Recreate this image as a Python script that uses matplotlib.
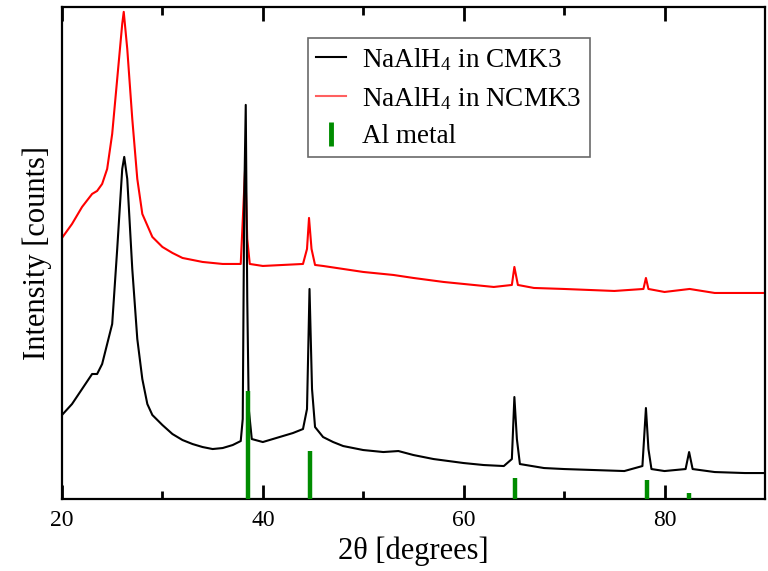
import matplotlib
matplotlib.use("Agg")
import matplotlib.pyplot as plt
from matplotlib.lines import Line2D

plt.rcParams['font.family'] = ['Liberation Serif', 'DejaVu Serif']
plt.rcParams['mathtext.fontset'] = 'custom'
plt.rcParams['mathtext.rm'] = 'Liberation Serif'
plt.rcParams['mathtext.it'] = 'Liberation Serif:italic'

# NaAlH4 in CMK3 (black)
cmk3_x = [20, 21, 22, 23, 23.5, 24, 24.5, 25, 25.5, 26.0, 26.2, 26.5, 27.0, 27.5, 28, 28.5, 29, 30, 31, 32,
          33, 34, 35, 36, 37, 37.8, 38.0, 38.15, 38.3, 38.45, 38.6, 38.9, 40, 41, 42, 43, 44, 44.4, 44.65,
          44.9, 45.2, 46, 47, 48, 50, 52, 53.5, 55, 57, 60, 62, 64, 64.8, 65.05, 65.3, 65.6, 68, 70, 73, 76,
          77.8, 78.15, 78.4, 78.7, 80, 82.1, 82.45, 82.8, 85, 88, 90]
cmk3_y = [84, 95, 110, 125, 125, 135, 155, 175, 250, 330, 342, 320, 230, 160, 120, 95, 84, 74, 65, 59,
          55, 52, 50, 51, 54, 58, 80, 300, 394, 200, 90, 60, 57, 60, 63, 66, 70, 90, 210,
          110, 72, 62, 57, 53, 49, 47, 48, 44, 40, 36, 34, 33, 40, 102, 60, 35, 31, 30, 29, 28,
          33, 91, 50, 30, 28, 30, 47, 30, 27, 26, 26]

# NaAlH4 in NCMK3 (red)
ncmk3_x = [20, 21, 22, 23, 23.5, 24, 24.5, 25, 25.5, 26.0, 26.15, 26.5, 27, 27.5, 28, 29, 30, 31, 32, 34, 36,
           37.8, 38.1, 38.25, 38.45, 38.7, 40, 42, 44, 44.4, 44.6, 44.85, 45.2, 46, 48, 50, 53, 55, 58, 60,
           63, 64.8, 65.05, 65.4, 67, 70, 75, 77.9, 78.15, 78.4, 80, 82.5, 85, 90]
ncmk3_y = [261, 275, 292, 305, 308, 315, 330, 365, 420, 475, 487, 450, 380, 320, 285, 262, 252, 246, 241, 237, 235,
           235, 300, 333, 260, 235, 233, 234, 235, 250, 281, 250, 234, 233, 230, 227, 224, 221, 217, 215,
           212, 214, 232, 214, 211, 210, 208, 210, 221, 210, 207, 210, 206, 206]

# Al metal reference lines
al_pos = [38.5, 44.74, 65.1, 78.23, 82.45]
al_int = [108, 48, 21, 19, 6]

xticks_major = [20, 40, 60, 80]
xticks_minor = [30, 50, 70]

fig = plt.figure(figsize=(7.68, 5.71), dpi=100)
ax = fig.add_axes([0.0807, 0.126, 0.9153, 0.862])

ax.plot(ncmk3_x, ncmk3_y, color='red', lw=1.5)
ax.plot(cmk3_x, cmk3_y, color='black', lw=1.5)
ax.vlines(al_pos, 0, al_int, color='#008c00', lw=3.2, zorder=3)

ax.set_xlim(20, 90)
ax.set_ylim(0, 492)
ax.set_xticks(xticks_major)
ax.set_xticks(xticks_minor, minor=True)
ax.set_yticks([])
ax.tick_params(axis='x', which='both', direction='in', top=True, bottom=True,
               width=2.0, color='black')
ax.tick_params(axis='x', which='major', length=10, labelsize=17, pad=8)
ax.tick_params(axis='x', which='minor', length=6)

for s in ax.spines.values():
    s.set_linewidth(1.6)

ax.set_xlabel(r'2θ [degrees]', fontsize=22, labelpad=4)
ax.set_ylabel('Intensity [counts]', fontsize=22, labelpad=7)

handles = [Line2D([], [], color='black', lw=1.5),
           Line2D([], [], color='#ff6060', lw=1.5),
           Line2D([], [], color='#008c00', marker='|', ls='none', markersize=17, mew=3.5)]
labels = [r'NaAlH$_4$ in CMK3', r'NaAlH$_4$ in NCMK3', 'Al metal']
leg = ax.legend(handles, labels, loc='upper left', bbox_to_anchor=(0.35, 0.937), fontsize=19.5,
                frameon=True, fancybox=False, edgecolor='#444444', handlelength=1.1,
                handletextpad=0.6, borderpad=0.3, labelspacing=0.45, borderaxespad=0)
leg.get_frame().set_linewidth(1.2)

fig.savefig('out.png', dpi=100)
